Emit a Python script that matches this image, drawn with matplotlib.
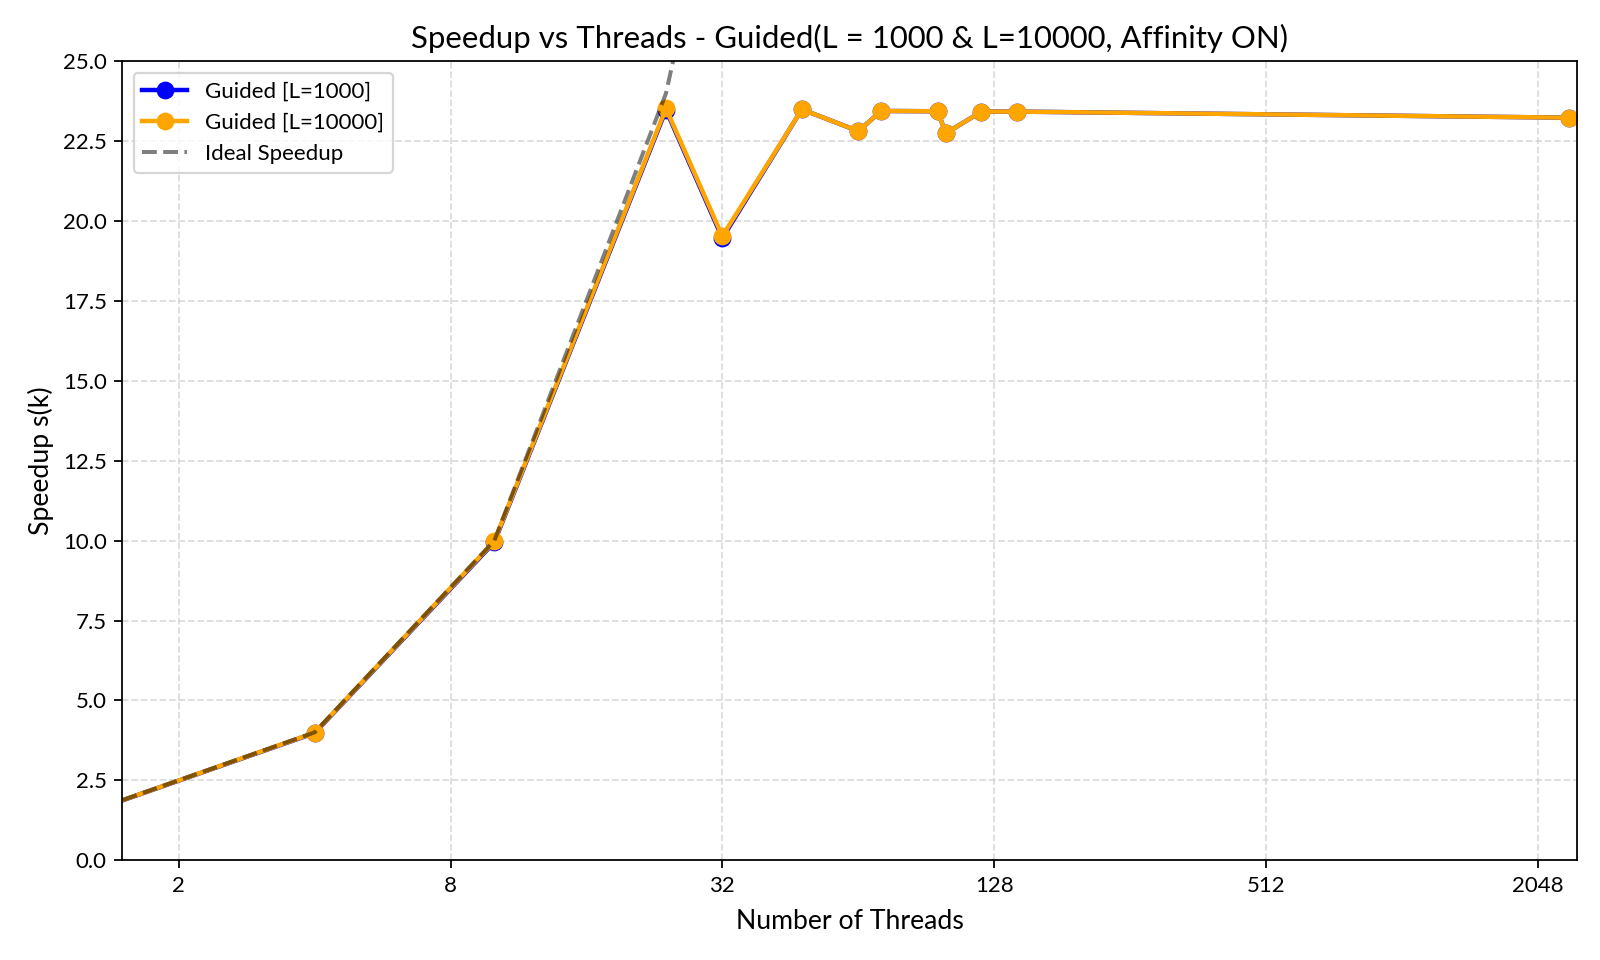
import matplotlib
matplotlib.use("Agg")
import matplotlib.pyplot as plt

plt.rcParams['font.family'] = ['Lato', 'DejaVu Sans']

threads = [1, 4, 10, 24, 32, 48, 64, 72, 96, 100, 120, 144, 2400]
speedup_l1000 = [1.0, 3.98, 9.95, 23.48, 19.47, 23.50, 22.82, 23.45, 23.44, 22.75, 23.43, 23.43, 23.24]
speedup_l10000 = [1.0, 3.99, 9.98, 23.53, 19.53, 23.50, 22.82, 23.45, 23.44, 22.75, 23.43, 23.43, 23.24]
ideal = threads
xticks = [2, 8, 32, 128, 512, 2048]
yticks = [0, 2.5, 5, 7.5, 10, 12.5, 15, 17.5, 20, 22.5, 25]

fig = plt.figure(figsize=(10, 6), dpi=160)
ax = fig.add_axes([0.0765, 0.104, 0.909, 0.832])

ax.plot(threads, speedup_l1000, marker='o', color='blue', linewidth=2, markersize=7, label='Guided [L=1000]')
ax.plot(threads, speedup_l10000, marker='o', color='orange', linewidth=2, markersize=7, label='Guided [L=10000]')
ax.plot(threads, ideal, linestyle='--', color='black', alpha=0.5, linewidth=1.8, label='Ideal Speedup')

ax.set_xscale('log', base=2)
ax.set_xticks(xticks)
ax.set_xticklabels([str(t) for t in xticks])
ax.minorticks_off()
ax.set_xlim(1.5, 2500)
ax.set_ylim(0, 25)
ax.set_yticks(yticks)
ax.set_yticklabels([f"{v:.1f}" for v in yticks])
ax.tick_params(labelsize=10)
ax.grid(True, linestyle='--', color='#cccccc', alpha=0.7, linewidth=0.8)

ax.set_title('Speedup vs Threads - Guided(L = 1000 & L=10000, Affinity ON)', fontsize=14)
ax.set_xlabel('Number of Threads', fontsize=12, labelpad=6)
ax.set_ylabel('Speedup s(k)', fontsize=12)
ax.legend(loc='upper left', fontsize=10)

fig.savefig('out.png', dpi=160)
